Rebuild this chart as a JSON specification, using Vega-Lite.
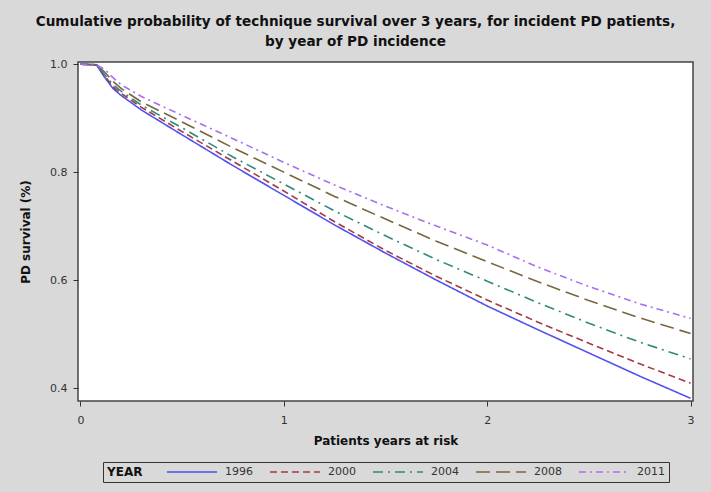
{
  "$schema": "https://vega.github.io/schema/vega-lite/v6.json",
  "autosize": {"type": "none"},
  "width": 615,
  "height": 339,
  "padding": {"left": 78, "top": 62, "right": 18, "bottom": 91},
  "background": "#d9d9d9",
  "title": {
    "text": ["Cumulative probability of technique survival over 3 years, for incident PD patients,", "by year of PD incidence"],
    "font": "DejaVu Sans",
    "fontSize": 13.6,
    "fontWeight": "bold",
    "color": "#111",
    "anchor": "middle",
    "dx": -30,
    "offset": 10,
    "lineHeight": 20
  },
  "data": {"values": [
    {"year":"1996","t":0,"s":1},{"year":"1996","t":0.08,"s":0.998},{"year":"1996","t":0.12,"s":0.975},{"year":"1996","t":0.16,"s":0.955},{"year":"1996","t":0.2,"s":0.942},{"year":"1996","t":0.3,"s":0.915},{"year":"1996","t":0.5,"s":0.869},{"year":"1996","t":0.75,"s":0.812},{"year":"1996","t":1,"s":0.757},{"year":"1996","t":1.25,"s":0.702},{"year":"1996","t":1.5,"s":0.65},{"year":"1996","t":1.75,"s":0.6},{"year":"1996","t":2,"s":0.552},{"year":"1996","t":2.25,"s":0.508},{"year":"1996","t":2.5,"s":0.465},{"year":"1996","t":2.75,"s":0.422},{"year":"1996","t":3,"s":0.381},
    {"year":"2000","t":0,"s":1},{"year":"2000","t":0.08,"s":0.999},{"year":"2000","t":0.12,"s":0.978},{"year":"2000","t":0.16,"s":0.958},{"year":"2000","t":0.2,"s":0.946},{"year":"2000","t":0.3,"s":0.92},{"year":"2000","t":0.5,"s":0.875},{"year":"2000","t":0.75,"s":0.82},{"year":"2000","t":1,"s":0.765},{"year":"2000","t":1.25,"s":0.708},{"year":"2000","t":1.5,"s":0.655},{"year":"2000","t":1.75,"s":0.607},{"year":"2000","t":2,"s":0.563},{"year":"2000","t":2.25,"s":0.522},{"year":"2000","t":2.5,"s":0.483},{"year":"2000","t":2.75,"s":0.445},{"year":"2000","t":3,"s":0.409},
    {"year":"2004","t":0,"s":1},{"year":"2004","t":0.08,"s":0.999},{"year":"2004","t":0.12,"s":0.98},{"year":"2004","t":0.16,"s":0.962},{"year":"2004","t":0.2,"s":0.95},{"year":"2004","t":0.3,"s":0.924},{"year":"2004","t":0.5,"s":0.882},{"year":"2004","t":0.75,"s":0.828},{"year":"2004","t":1,"s":0.778},{"year":"2004","t":1.25,"s":0.728},{"year":"2004","t":1.5,"s":0.682},{"year":"2004","t":1.75,"s":0.638},{"year":"2004","t":2,"s":0.598},{"year":"2004","t":2.25,"s":0.558},{"year":"2004","t":2.5,"s":0.52},{"year":"2004","t":2.75,"s":0.485},{"year":"2004","t":3,"s":0.454},
    {"year":"2008","t":0,"s":1},{"year":"2008","t":0.08,"s":0.999},{"year":"2008","t":0.12,"s":0.985},{"year":"2008","t":0.16,"s":0.968},{"year":"2008","t":0.2,"s":0.955},{"year":"2008","t":0.3,"s":0.93},{"year":"2008","t":0.5,"s":0.893},{"year":"2008","t":0.75,"s":0.845},{"year":"2008","t":1,"s":0.8},{"year":"2008","t":1.25,"s":0.755},{"year":"2008","t":1.5,"s":0.713},{"year":"2008","t":1.75,"s":0.672},{"year":"2008","t":2,"s":0.634},{"year":"2008","t":2.25,"s":0.597},{"year":"2008","t":2.5,"s":0.562},{"year":"2008","t":2.75,"s":0.53},{"year":"2008","t":3,"s":0.501},
    {"year":"2011","t":0,"s":1},{"year":"2011","t":0.08,"s":0.999},{"year":"2011","t":0.12,"s":0.99},{"year":"2011","t":0.16,"s":0.975},{"year":"2011","t":0.2,"s":0.962},{"year":"2011","t":0.3,"s":0.94},{"year":"2011","t":0.5,"s":0.905},{"year":"2011","t":0.75,"s":0.862},{"year":"2011","t":1,"s":0.818},{"year":"2011","t":1.25,"s":0.776},{"year":"2011","t":1.5,"s":0.737},{"year":"2011","t":1.75,"s":0.7},{"year":"2011","t":2,"s":0.665},{"year":"2011","t":2.25,"s":0.624},{"year":"2011","t":2.5,"s":0.588},{"year":"2011","t":2.75,"s":0.556},{"year":"2011","t":3,"s":0.529}
  ]},
  "mark": {"type": "line", "strokeWidth": 1.6, "clip": true},
  "encoding": {
    "x": {
      "field": "t", "type": "quantitative",
      "scale": {"domain": [-0.012, 3.012], "nice": false, "zero": false},
      "axis": {"values": [0, 1, 2, 3], "format": "d", "title": "Patients years at risk", "grid": false, "domain": false,
        "tickSize": 5, "tickColor": "#333", "labelPadding": 8, "labelFontSize": 11, "labelColor": "#333", "labelFont": "DejaVu Sans",
        "titleFont": "DejaVu Sans", "titleFontSize": 12, "titleFontWeight": "bold", "titleColor": "#111", "titlePadding": 10}
    },
    "y": {
      "field": "s", "type": "quantitative",
      "scale": {"domain": [0.376, 1.004], "nice": false, "zero": false},
      "axis": {"values": [0.4, 0.6, 0.8, 1.0], "format": ".1f", "title": "PD survival (%)", "grid": false, "domain": false,
        "tickSize": 5, "tickColor": "#333", "labelPadding": 6, "labelFontSize": 11, "labelColor": "#333", "labelFont": "DejaVu Sans",
        "titleFont": "DejaVu Sans", "titleFontSize": 12, "titleFontWeight": "bold", "titleColor": "#111", "titlePadding": 17}
    },
    "color": {
      "field": "year", "type": "nominal", "title": "YEAR",
      "scale": {"domain": ["1996", "2000", "2004", "2008", "2011"], "range": ["#5252ee", "#a33a44", "#2f8a7c", "#7a6540", "#a870f0"]}
    },
    "strokeDash": {
      "field": "year", "type": "nominal", "title": "YEAR",
      "scale": {"domain": ["1996", "2000", "2004", "2008", "2011"], "range": [[1, 0], [7, 4], [10, 5, 2, 5], [14, 6], [7, 4, 2, 4]]}
    }
  },
  "config": {
    "view": {"stroke": "#444", "strokeWidth": 1.5, "fill": "white"},
    "legend": {
      "orient": "none", "legendX": 25, "legendY": 400, "direction": "horizontal",
      "titleOrient": "left", "titleFont": "DejaVu Sans", "titleFontSize": 12, "titleFontWeight": "bold", "titleColor": "#111", "titlePadding": 18,
      "titleBaseline": "middle", "titleAnchor": "middle",
      "labelFont": "DejaVu Sans", "labelFontSize": 11, "labelColor": "#333",
      "symbolType": "M-5,0H5", "symbolSize": 100, "symbolOffset": 25, "labelOffset": 27, "symbolStrokeWidth": 1.6, "columnPadding": 11,
      "strokeColor": "#333", "padding": 4
    }
  }
}
